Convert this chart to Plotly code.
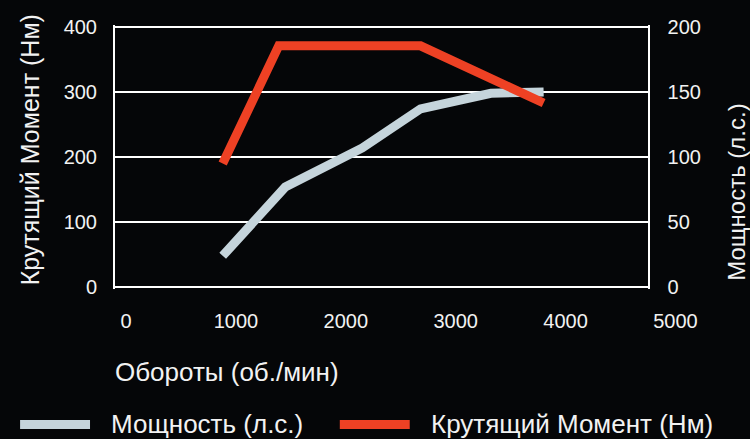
import plotly.graph_objects as go

# ---- data ----
rpm_power = [880, 1450, 2150, 2680, 3320, 3800]
power_hp = [24, 77, 107, 137, 149, 150]
rpm_torque = [880, 1390, 2680, 3800]
torque_nm = [190, 371, 371, 283]

x_ticks = [0, 1000, 2000, 3000, 4000, 5000]
torque_ticks = [0, 100, 200, 300, 400]
power_ticks = [0, 50, 100, 150, 200]

name_power = "Мощность (л.с.)"
name_torque = "Крутящий Момент (Нм)"
x_title = "Обороты (об./мин)"

# ---- style ----
BG = "#050608"
FG = "#f2f2f2"
GRAY = "#c5d4db"
RED = "#ee4124"
FONT = "Liberation Sans, Arial, sans-serif"

W, H = 750, 439
L, R_EDGE, T, B = 115, 681.5, 24.75, 288.65
X_RANGE = [-100, 5050]
TQ_RANGE = [-3, 403]
PW_RANGE = [-1.5, 201.5]
RIGHT_AXIS_PX = 649


def px_x(p):
    return (p - L) / (R_EDGE - L)


def px_y(p):
    return (B - p) / (B - T)


x_right = X_RANGE[0] + px_x(RIGHT_AXIS_PX) * (X_RANGE[1] - X_RANGE[0])

fig = go.Figure()
fig.add_trace(go.Scatter(x=rpm_power, y=power_hp, name=name_power, mode="lines",
                         line=dict(color=GRAY, width=9), yaxis="y", showlegend=False))
fig.add_trace(go.Scatter(x=rpm_torque, y=torque_nm, name=name_torque, mode="lines",
                         line=dict(color=RED, width=9), yaxis="y2", showlegend=False))

shapes = []
for v in torque_ticks:
    shapes.append(dict(type="line", xref="x", yref="y2", x0=X_RANGE[0], x1=x_right,
                       y0=v, y1=v, line=dict(color="white", width=2), layer="below"))
# legend samples
shapes.append(dict(type="line", xref="paper", yref="paper", x0=px_x(20), x1=px_x(90),
                   y0=px_y(424), y1=px_y(424), line=dict(color=GRAY, width=9)))
shapes.append(dict(type="line", xref="paper", yref="paper", x0=px_x(340), x1=px_x(410),
                   y0=px_y(424), y1=px_y(424), line=dict(color=RED, width=9)))

annotations = [
    dict(text=x_title, xref="paper", yref="paper", x=px_x(113), y=px_y(372),
         xanchor="left", yanchor="middle", showarrow=False, font=dict(size=26, color=FG)),
    dict(text=name_torque, xref="paper", yref="paper", x=px_x(30), y=px_y(150),
         textangle=-90, xanchor="center", yanchor="middle", showarrow=False,
         font=dict(size=25, color=FG)),
    dict(text=name_power, xref="paper", yref="paper", x=px_x(737), y=px_y(192),
         textangle=-90, xanchor="center", yanchor="middle", showarrow=False,
         font=dict(size=24, color=FG)),
    dict(text=name_power, xref="paper", yref="paper", x=px_x(109), y=px_y(424),
         xanchor="left", yanchor="middle", showarrow=False, font=dict(size=26, color=FG)),
    dict(text=name_torque, xref="paper", yref="paper", x=px_x(429), y=px_y(424),
         xanchor="left", yanchor="middle", showarrow=False, font=dict(size=26, color=FG)),
]

fig.update_layout(
    width=W, height=H,
    margin=dict(l=L, r=W - R_EDGE, t=T, b=H - B, pad=0),
    paper_bgcolor=BG, plot_bgcolor=BG,
    font=dict(family=FONT, color=FG, size=20),
    showlegend=False,
    xaxis=dict(range=X_RANGE, tickvals=x_ticks, showgrid=False, zeroline=False,
               showline=False, ticks="", ticklabelstandoff=18,
               tickfont=dict(size=20, color=FG)),
    yaxis=dict(range=PW_RANGE, tickvals=power_ticks, side="right", anchor="free",
               position=px_x(RIGHT_AXIS_PX), showgrid=False, zeroline=False,
               showline=True, linecolor="white", linewidth=2, ticks="",
               ticklabelstandoff=14, tickfont=dict(size=20, color=FG)),
    yaxis2=dict(range=TQ_RANGE, tickvals=torque_ticks, side="left", overlaying="y",
                anchor="x", showgrid=False, zeroline=False, showline=True,
                linecolor="white", linewidth=2, ticks="", ticklabelstandoff=12,
                tickfont=dict(size=20, color=FG)),
    shapes=shapes,
    annotations=annotations,
)

fig.write_html("out.html", config={"displayModeBar": False},
               post_script="document.body.style.margin='0';document.body.style.background='%s';" % BG)
